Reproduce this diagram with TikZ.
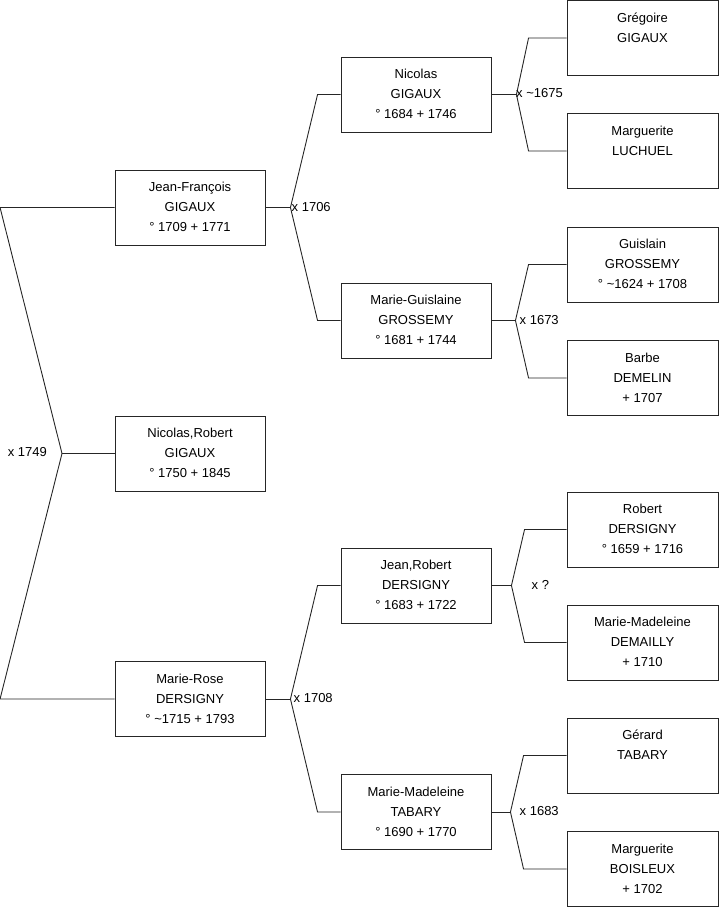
\documentclass[tikz,border=0pt]{standalone}
\usepackage{fontspec}
\setmainfont{Liberation Sans}
\newcommand{\threel}[3]{\strut #1\\\strut #2\\\strut #3}
\begin{document}
\begin{tikzpicture}[x=1pt,y=-1pt,
  person/.style={draw=black!85, line width=0.9pt, minimum width=150pt, minimum height=75pt,
    inner sep=0pt, align=center, font=\fontsize{13}{20}\selectfont},
  outer/.style={person, minimum width=151pt},
  link/.style={draw=black!85, line width=0.9pt},
  lbl/.style={font=\fontsize{13}{16}\selectfont, inner sep=0pt}]
\useasboundingbox (0,0) rectangle (719,908);
% level 1
\node[person] (jf) at (190,207.5) {\threel{Jean-François}{GIGAUX}{° 1709 + 1771}};
\node[person] (nr) at (190,453.5) {\threel{Nicolas,Robert}{GIGAUX}{° 1750 + 1845}};
\node[person] (mr) at (190,699) {\threel{Marie-Rose}{DERSIGNY}{° \textasciitilde1715 + 1793}};
% level 2
\node[person] (nic) at (416,94.5) {\threel{Nicolas}{GIGAUX}{° 1684 + 1746}};
\node[person] (mg) at (416,320.5) {\threel{Marie-Guislaine}{GROSSEMY}{° 1681 + 1744}};
\node[person] (jr) at (416,585.5) {\threel{Jean,Robert}{DERSIGNY}{° 1683 + 1722}};
\node[person] (mmt) at (416,812) {\threel{Marie-Madeleine}{TABARY}{° 1690 + 1770}};
% level 3
\node[outer] (gre) at (642.5,38) {\threel{Grégoire}{GIGAUX}{}};
\node[outer] (mar) at (642.5,151) {\threel{Marguerite}{LUCHUEL}{}};
\node[outer] (gui) at (642.5,264.5) {\threel{Guislain}{GROSSEMY}{° \textasciitilde1624 + 1708}};
\node[outer] (bar) at (642.5,378) {\threel{Barbe}{DEMELIN}{+ 1707}};
\node[outer] (rob) at (642.5,529.5) {\threel{Robert}{DERSIGNY}{° 1659 + 1716}};
\node[outer] (mmd) at (642.5,642.5) {\threel{Marie-Madeleine}{DEMAILLY}{+ 1710}};
\node[outer] (ger) at (642.5,755.5) {\threel{Gérard}{TABARY}{}};
\node[outer] (boi) at (642.5,869) {\threel{Marguerite}{BOISLEUX}{+ 1702}};
% junctions
\coordinate (j0) at (62,453.5);
\coordinate (j1) at ([xshift=25pt]jf.east);
\coordinate (j2) at ([xshift=25pt]mr.east);
\coordinate (j3) at ([xshift=25pt]nic.east);
\coordinate (j4) at ([xshift=24pt]mg.east);
\coordinate (j5) at ([xshift=20pt]jr.east);
\coordinate (j6) at ([xshift=19pt]mmt.east);
% connectors
\draw[link] (jf.west) -- ([xshift=-114.5pt]jf.west) -- (j0) -- ([xshift=-114.5pt]mr.west) -- (mr.west);
\draw[link] (j0) -- (nr.west);
\draw[link] (jf.east) -- (j1);
\draw[link] (nic.west) -- ++(-23,0) -- (j1) -- ([xshift=-23pt]mg.west) -- (mg.west);
\draw[link] (mr.east) -- (j2);
\draw[link] (jr.west) -- ++(-23,0) -- (j2) -- ([xshift=-23pt]mmt.west) -- (mmt.west);
\draw[link] (nic.east) -- (j3);
\draw[link] (gre.west) -- ++(-38,0) -- (j3) -- ([xshift=-38pt]mar.west) -- (mar.west);
\draw[link] (mg.east) -- (j4);
\draw[link] (gui.west) -- ++(-38,0) -- (j4) -- ([xshift=-38pt]bar.west) -- (bar.west);
\draw[link] (jr.east) -- (j5);
\draw[link] (rob.west) -- ++(-42,0) -- (j5) -- ([xshift=-42pt]mmd.west) -- (mmd.west);
\draw[link] (mmt.east) -- (j6);
\draw[link] (ger.west) -- ++(-43,0) -- (j6) -- ([xshift=-43pt]boi.west) -- (boi.west);
% marriage labels
\node[lbl, anchor=east] (m0) at (47,452.5) {x 1749};
\node[lbl, anchor=west] (m1) at (291.5,207.5) {x 1706};
\node[lbl, anchor=west] (m2) at (293.5,698) {x 1708};
\node[lbl, anchor=west] (m3) at (516,93.5) {x \textasciitilde1675};
\node[lbl, anchor=west] (m4) at (519.5,320.5) {x 1673};
\node[lbl, anchor=west] (m5) at (531.5,584.5) {x ?};
\node[lbl, anchor=west] (m6) at (519.5,811.5) {x 1683};
\end{tikzpicture}
\end{document}
